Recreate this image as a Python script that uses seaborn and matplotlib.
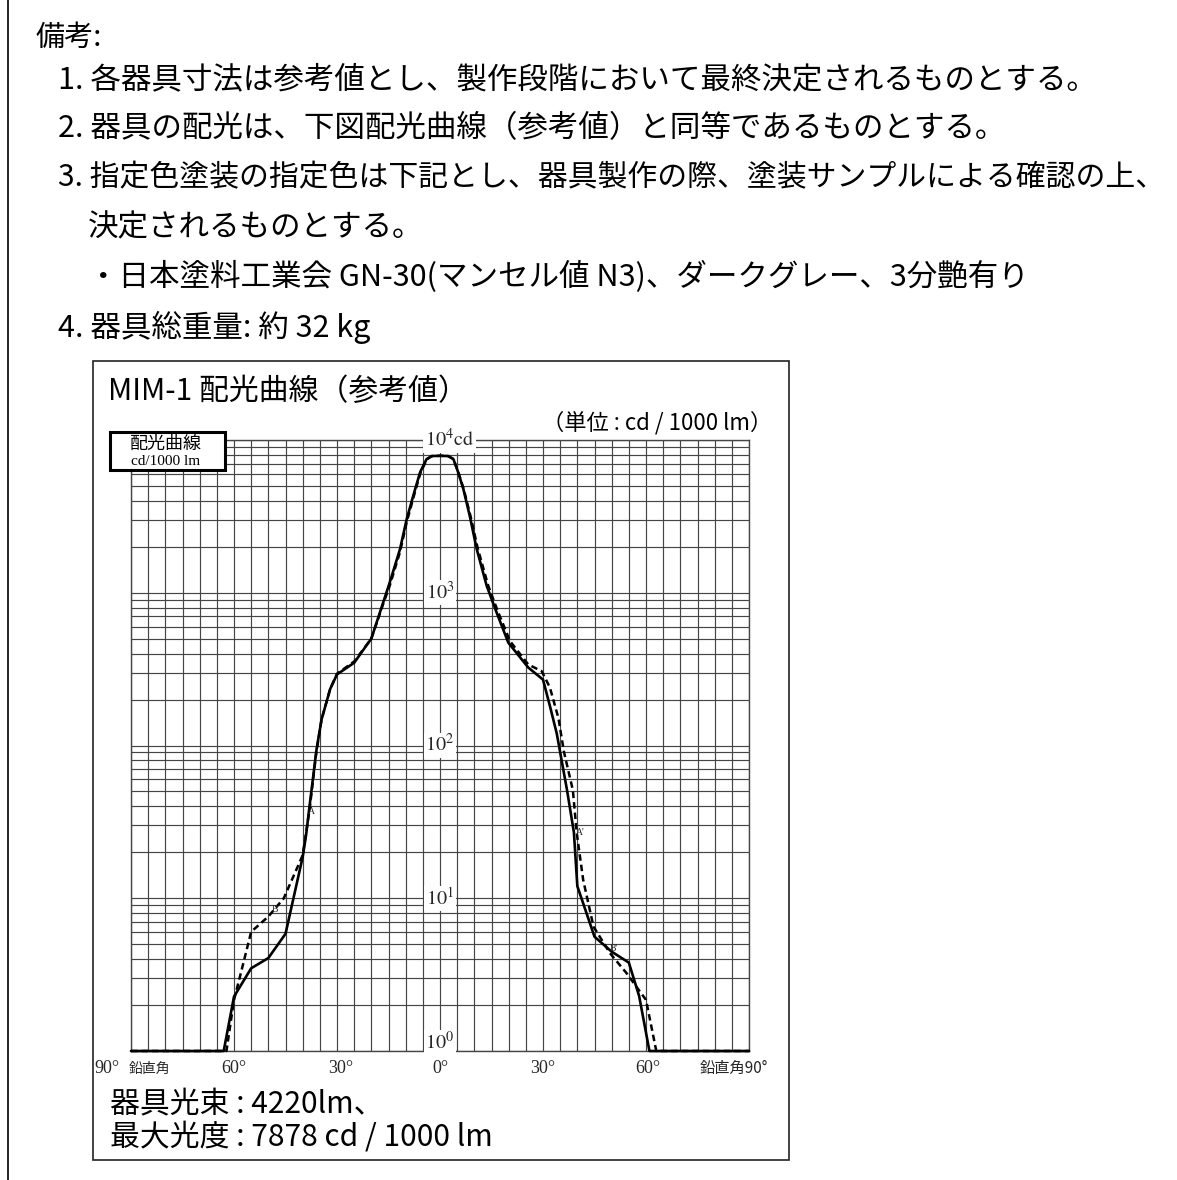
import numpy as np
import pandas as pd
import matplotlib
matplotlib.use("Agg")
import matplotlib.pyplot as plt
import seaborn as sns
from matplotlib.patches import Rectangle
from matplotlib.lines import Line2D
from matplotlib.ticker import LogLocator, NullLocator

# ---------------- data ----------------
angle_solid = [-90, -63, -60, -55, -50, -45, -40, -39, -38, -36,
               -34.5, -32, -30, -25, -20, -16.5, -14.6, -11.65, -9.7, -7.8,
               -5.8, -4.9, -3.9, -2.4, 0, 2.4, 3.9, 5.3, 6.8, 8.7,
               10.7, 13.6, 16.5, 19.9, 25.7, 30, 32, 34, 37, 39,
               40, 45, 50, 55, 58, 61, 90]
cd_solid = [1, 1, 2.27, 3.48, 4.06, 5.85, 18.6, 26, 40, 93,
            148, 234, 292, 348, 501, 871, 1175, 1930, 3030, 4315,
            6140, 6760, 7500, 7850, 7878, 7850, 7500, 6140, 4780, 3160,
            1930, 1110, 741, 471, 324, 270, 182, 120, 51, 27,
            12.0, 5.6, 4.47, 3.79, 2.29, 1, 1]

angle_dash = [-90, -62.2, -60, -58, -55, -50, -45.5, -40, -38, -36,
              -34.5, -32, -30, -25, -20, -16.5, -14.6, -11.65, -9.7, -7.8,
              -5.8, -4.9, -3.9, -2.4, 0, 2.4, 3.9, 5.3, 7, 9,
              11, 14, 16.8, 20.4, 25.7, 29.6, 32, 34.5, 36.1, 38.7,
              39.8, 41.7, 44.7, 49.5, 54.3, 60, 63, 90]
cd_dash = [1, 1, 2.16, 3.24, 6.03, 7.59, 10.0, 19.1, 38, 91,
           148, 234, 295, 355, 501, 850, 1120, 1850, 2900, 4150,
           6000, 6650, 7450, 7850, 7878, 7850, 7500, 6200, 4680, 3100,
           1950, 1120, 760, 482, 339, 307, 240, 151, 91, 51,
           27, 13.2, 6.53, 4.37, 3.24, 2.16, 1, 1]

x_tick_labels = ["90°", "60°", "30°", "0°", "30°", "60°"]
x_tick_angles = [-97, -60, -29, 0, 30, 60.6]
y_decades = [1.13, 10, 100, 1000, 10000]
y_decade_labels = [r"$\mathrm{10^{0}}$", r"$\mathrm{10^{1}}$", r"$\mathrm{10^{2}}$",
                   r"$\mathrm{10^{3}}$", r"$\mathrm{10^{4}cd}$"]
curve_labels = ["A", "B", "A'", "B'"]
curve_label_angle = [-37.6, -48.2, 40.8, 50.6]
curve_label_cd = [37, 8.4, 27, 4.7]

notes_title = "備考:"
notes = [
    "1. 各器具寸法は参考値とし、製作段階において最終決定されるものとする。",
    "2. 器具の配光は、下図配光曲線（参考値）と同等であるものとする。",
    "3. 指定色塗装の指定色は下記とし、器具製作の際、塗装サンプルによる確認の上、",
    "決定されるものとする。",
    "・日本塗料工業会 GN-30(マンセル値 N3)、ダークグレー、3分艶有り",
    "4. 器具総重量: 約 32 kg",
]
chart_title = "MIM-1 配光曲線（参考値）"
unit_text = "（単位 : cd / 1000 lm）"
flux_text = "器具光束 : 4220lm、"
maxcd_text = "最大光度 : 7878 cd / 1000 lm"

# ---------------- style ----------------
sns.set_theme(style="white")
plt.rcParams["font.family"] = ["Noto Sans CJK JP", "DejaVu Sans"]
plt.rcParams["mathtext.fontset"] = "stix"

MAIN = ["Noto Sans CJK JP", "DejaVu Sans"]
SERIF = ["Liberation Serif", "Noto Sans CJK JP", "DejaVu Sans"]
GRID = "#454545"

W, H = 1177, 1180
fig = plt.figure(figsize=(W / 100, H / 100), dpi=100)
fig.patch.set_facecolor("white")


def T(x, y, s, **kw):
    kw.setdefault("va", "center")
    kw.setdefault("ha", "left")
    kw.setdefault("color", "black")
    return fig.text(x / W, 1 - y / H, s, **kw)


# ---------------- notes ----------------
T(35, 38, notes_title, fontsize=21, family=MAIN)
note_pos = [(58, 80), (58, 129), (58, 178), (88, 228), (88, 277), (58, 327)]
note_size = [22, 22, 21.5, 22, 22, 22]
for (x, y), s, fs in zip(note_pos, notes, note_size):
    T(x, y, s, fontsize=fs, family=MAIN)

# document left border
fig.add_artist(Line2D([8 / W, 8 / W], [0, 1], color="black", lw=1.2,
                      transform=fig.transFigure))
# chart panel frame
fig.add_artist(Rectangle((93 / W, 1 - 1160 / H), (789 - 93) / W, (1160 - 361) / H,
                         transform=fig.transFigure, fill=False, ec="#222", lw=1.2))

T(108, 392, chart_title, fontsize=21.5, family=MAIN)
T(772, 423, unit_text, fontsize=16, family=MAIN, ha="right")
T(110, 1105, flux_text, fontsize=21.5, family=MAIN)
T(110, 1137, maxcd_text, fontsize=21.5, family=MAIN)

# ---------------- chart ----------------
ax = fig.add_axes([131 / W, 1 - 1051 / H, 618 / W, 611 / H])
ax.set_facecolor("white")

df_solid = pd.DataFrame({"angle": angle_solid, "cd": cd_solid})
df_dash = pd.DataFrame({"angle": angle_dash, "cd": cd_dash})

sns.lineplot(data=df_dash, x="angle", y="cd", ax=ax, color="black", lw=1.8,
             sort=False, estimator=None, linestyle=(0, (2.6, 1.6)), clip_on=False, zorder=4)
sns.lineplot(data=df_solid, x="angle", y="cd", ax=ax, color="black", lw=1.9,
             sort=False, estimator=None, clip_on=False, zorder=5)

ax.set_yscale("log")
ax.set_xlim(-90, 90)
ax.set_ylim(1, 10000)
ax.set_xticks(np.arange(-90, 91, 5))
ax.xaxis.set_minor_locator(NullLocator())
ax.yaxis.set_major_locator(LogLocator(base=10))
ax.yaxis.set_minor_locator(LogLocator(base=10, subs=np.arange(2, 10)))
ax.grid(True, which="both", color=GRID, lw=0.85)
ax.tick_params(which="both", length=0, labelbottom=False, labelleft=False)
ax.set_xlabel("")
ax.set_ylabel("")
for sp in ax.spines.values():
    sp.set_color(GRID)
    sp.set_linewidth(1.0)

# decade labels on the centre line
for v, lab in zip(y_decades, y_decade_labels):
    if v == 10000:
        ax.text(-4.3, v, lab, ha="left", va="center", fontsize=14.5, zorder=6,
                bbox=dict(fc="white", ec="none", pad=1.5))
    else:
        ax.text(0, v, lab, ha="center", va="center", fontsize=14.5, zorder=6,
                bbox=dict(fc="white", ec="none", pad=1.2))

# curve letters
for a, v, lab in zip(curve_label_angle, curve_label_cd, curve_labels):
    ax.text(a, v, lab, ha="center", va="center", fontsize=7, family=SERIF, zorder=6)

# bottom angle labels
xt = ax.get_xaxis_transform()
for a, lab in zip(x_tick_angles, x_tick_labels):
    ax.text(a, -0.029, lab, transform=xt, ha="center", va="center",
            fontsize=13, family=SERIF, clip_on=False)
ax.text(-84.5, -0.029, "鉛直角", transform=xt, ha="center", va="center",
        fontsize=10, clip_on=False)
ax.text(85.5, -0.029, "鉛直角90°", transform=xt, ha="center", va="center",
        fontsize=11, family=["Noto Sans CJK JP", "DejaVu Sans"], clip_on=False)

# legend box
fig.add_artist(Rectangle((110 / W, 1 - 470 / H), 115 / W, 38 / H,
                         transform=fig.transFigure, fc="white", ec="black", lw=2.2, zorder=7))
T(166, 444, "配光曲線", fontsize=13, family=MAIN, ha="center", zorder=8)
T(166, 462, "cd/1000 lm", fontsize=11, family=SERIF, ha="center", zorder=8)

fig.savefig("out.png", dpi=100)
